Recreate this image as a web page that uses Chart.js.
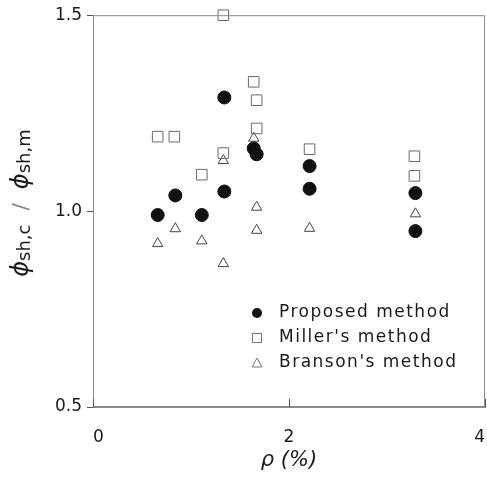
<!DOCTYPE html>
<html>
<head>
<meta charset="utf-8">
<script src="https://cdn.jsdelivr.net/npm/chart.js@4"></script>
<style>
  html, body { margin: 0; padding: 0; background: #fff; }
  #box { width: 487px; height: 477px; }
</style>
</head>
<body>
<div id="box"><canvas id="myChart" width="487" height="477"></canvas></div>
<script>
// values (rho in %, ratio phi_sh,c / phi_sh,m)
const proposedX = [0.66, 0.84, 1.11, 1.34, 1.34, 1.64, 1.67, 2.21, 2.21, 3.29, 3.29];
const proposedY = [0.99, 1.04, 0.99, 1.05, 1.29, 1.16, 1.145, 1.115, 1.057, 1.046, 0.949];
const millerX = [0.66, 0.83, 1.11, 1.33, 1.33, 1.64, 1.67, 1.67, 2.21, 3.28, 3.28];
const millerY = [1.19, 1.19, 1.093, 1.5, 1.148, 1.33, 1.283, 1.211, 1.158, 1.14, 1.09];
const bransonX = [0.66, 0.84, 1.11, 1.33, 1.33, 1.64, 1.67, 1.67, 2.21, 3.29];
const bransonY = [0.917, 0.955, 0.924, 0.866, 1.129, 1.186, 1.01, 0.951, 0.956, 0.993];
const seriesNames = ['Proposed method', "Miller's method", "Branson's method"];
const xTicks = [0, 2, 4];
const yTicks = [0.5, 1.0, 1.5];

const FONT = "'DejaVu Sans', sans-serif";
const INK = '#1a1a1a';

function pts(xs, ys) {
  let out = [];
  for (let i = 0; i < xs.length; i++) out.push({x: xs[i], y: ys[i]});
  return out;
}

// frame, inward x ticks, y title and the legend box
const extras = {
  id: 'extras',
  afterDraw(chart) {
    const c = chart.ctx;
    const a = chart.chartArea;
    const xs = chart.scales.x;
    c.save();
    c.strokeStyle = '#8a8a8a';
    c.lineWidth = 1;
    c.strokeRect(a.left + 0.5, a.top + 0.5, a.right - a.left - 1, a.bottom - a.top - 1);
    c.strokeStyle = '#555';
    xTicks.forEach(t => {
      const px = Math.round(xs.getPixelForValue(t)) + 0.5;
      c.beginPath();
      c.moveTo(px, a.bottom);
      c.lineTo(px, a.bottom - 8);
      c.stroke();
    });

    // y axis title with subscripts
    c.translate(23, 203);
    c.rotate(-Math.PI / 2);
    c.textBaseline = 'alphabetic';
    const parts = [
      {t: 'ϕ', f: 'italic 24px ' + FONT, dy: 0},
      {t: 'sh,c', f: '18px ' + FONT, dy: 2},
      {t: '  /  ', f: '22px ' + FONT, dy: 0, col: '#888'},
      {t: 'ϕ', f: 'italic 24px ' + FONT, dy: 0},
      {t: 'sh,m', f: '18px ' + FONT, dy: 2}
    ];
    let w = 0;
    parts.forEach(p => { c.font = p.f; p.w = c.measureText(p.t).width; w += p.w; });
    let x = -w / 2;
    parts.forEach(p => {
      c.font = p.f;
      c.fillStyle = p.col || INK;
      c.fillText(p.t, x, 5 + p.dy);
      x += p.w;
    });
    c.restore();

    // legend
    c.save();
    c.font = '17px ' + FONT;
    c.letterSpacing = '1.5px';
    c.textBaseline = 'middle';
    c.fillStyle = INK;
    const lx = 257, rows = [313, 338, 363];
    rows.forEach((ry, i) => {
      c.fillText(seriesNames[i], lx + 22, ry);
    });
    c.fillStyle = '#111';
    c.beginPath();
    c.arc(lx, rows[0], 5, 0, Math.PI * 2);
    c.fill();
    c.strokeStyle = '#777';
    c.lineWidth = 1;
    c.strokeRect(lx - 4.5, rows[1] - 4.5, 9, 9);
    c.beginPath();
    c.moveTo(lx, rows[2] - 5);
    c.lineTo(lx + 5, rows[2] + 4);
    c.lineTo(lx - 5, rows[2] + 4);
    c.closePath();
    c.stroke();
    c.restore();
  }
};

var ctx = document.getElementById('myChart').getContext('2d');
var myChart = new Chart(ctx, {
  type: 'scatter',
  data: {
    datasets: [{
      label: seriesNames[0],
      data: pts(proposedX, proposedY),
      pointStyle: 'circle',
      radius: 6.5,
      backgroundColor: '#111',
      borderColor: '#111',
      borderWidth: 1
    }, {
      label: seriesNames[1],
      data: pts(millerX, millerY),
      pointStyle: 'rect',
      radius: 7.5,
      backgroundColor: 'rgba(255,255,255,0)',
      borderColor: '#6a6a6a',
      borderWidth: 1
    }, {
      label: seriesNames[2],
      data: pts(bransonX, bransonY),
      pointStyle: 'triangle',
      radius: 6,
      backgroundColor: 'rgba(255,255,255,0)',
      borderColor: '#444',
      borderWidth: 1
    }]
  },
  options: {
    responsive: false,
    devicePixelRatio: 1,
    animation: false,
    clip: false,
    layout: { autoPadding: false, padding: { left: 0, top: 13, right: 2, bottom: 0 } },
    plugins: {
      legend: { display: false },
      tooltip: { enabled: false }
    },
    scales: {
      x: {
        type: 'linear',
        min: 0,
        max: 4,
        afterBuildTicks: (s) => { s.ticks = xTicks.map(v => ({value: v})); },
        afterFit: (s) => { s.height = 70; },
        grid: { display: false, drawTicks: true, tickLength: 18 },
        border: { display: true, color: '#8a8a8a' },
        ticks: {
          padding: 2,
          align: 'inner',
          color: INK,
          font: { family: FONT, size: 17 },
          maxRotation: 0,
          callback: (v) => String(v)
        },
        title: {
          display: true,
          text: 'ρ (%)',
          color: INK,
          font: { family: FONT, size: 21, style: 'italic' },
          padding: { top: 0, bottom: 4 }
        }
      },
      y: {
        type: 'linear',
        min: 0.5,
        max: 1.5,
        afterBuildTicks: (s) => { s.ticks = yTicks.map(v => ({value: v})); },
        afterFit: (s) => { s.width = 93; },
        grid: { display: true, drawOnChartArea: false, drawTicks: true, tickLength: 6, color: '#555' },
        border: { display: true, color: '#8a8a8a' },
        ticks: {
          padding: 5,
          color: INK,
          font: { family: FONT, size: 17 },
          callback: (v) => v.toFixed(1)
        }
      }
    }
  },
  plugins: [extras]
});
</script>
</body>
</html>
